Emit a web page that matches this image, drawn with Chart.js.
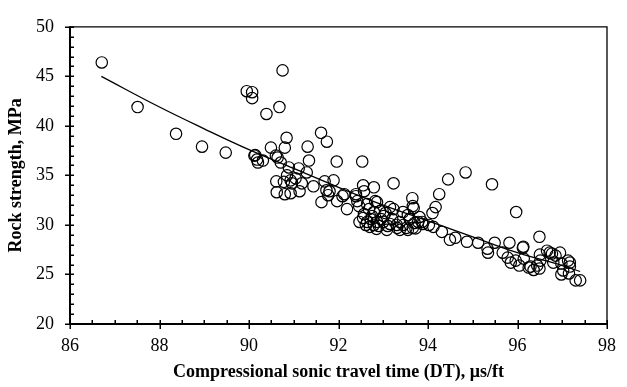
<!DOCTYPE html>
<html>
<head>
<meta charset="utf-8">
<script src="https://cdn.jsdelivr.net/npm/chart.js@4.4.1/dist/chart.umd.min.js"></script>
<style>
  html, body { margin: 0; padding: 0; background: #fff; }
  #wrap { width: 627px; height: 387px; }
</style>
</head>
<body>
<div id="wrap"><canvas id="chart" width="627" height="387"></canvas></div>
<script>
// measured points: DT (us/ft) and rock strength (MPa)
const dtValues = [
  86.71, 87.51, 88.37, 88.95, 89.48, 89.95, 90.07, 90.07, 90.12, 90.75,
  90.39, 90.68, 91.61, 91.74, 90.84, 90.49, 90.80, 91.31, 91.34, 91.96,
  92.53, 93.23, 92.79, 92.55, 91.89, 91.69, 91.29, 91.11, 90.61, 90.62,
  90.80, 91.13, 91.62, 92.19, 91.97, 90.31, 90.18, 90.60, 90.71, 90.89,
  91.04, 90.93, 91.44, 91.80, 91.77, 92.09, 92.39, 92.57, 92.46, 92.82,
  93.15, 90.14, 90.64, 90.85, 91.18, 90.78, 90.96, 90.93, 91.73, 90.20,
  93.65, 93.66, 92.13, 92.39, 92.42, 92.64, 92.86, 92.57, 92.72, 92.86,
  93.01, 93.23, 93.44, 93.15, 93.37, 93.59, 93.81, 93.66, 93.37, 93.08,
  92.79, 92.64, 93.52, 93.88, 92.93, 92.79, 92.47, 92.61, 92.70, 92.90,
  93.00, 92.75, 93.20, 93.10, 92.95, 92.55, 93.30, 92.85, 93.45, 93.70,
  93.55, 92.68, 93.05, 94.45, 94.84, 95.43, 94.25, 94.17, 94.10, 93.68,
  95.97, 96.49, 93.87, 94.12, 94.31, 94.49, 94.61, 94.87, 95.12, 95.33,
  95.34, 95.49, 95.82, 96.13, 95.67, 95.78, 95.85, 96.04, 96.14, 96.29,
  96.44, 96.51, 96.50, 96.66, 96.77, 96.95, 96.80, 96.98, 97.17, 97.02,
  96.98, 97.15, 97.30, 97.40, 93.31, 93.55, 93.72, 96.12, 95.96, 96.25,
  96.36, 96.49, 96.72, 96.85, 97.13, 97.17, 94.02, 93.78
];
const strengthValues = [
  46.4, 41.9, 39.2, 37.9, 37.3, 43.5, 43.4, 42.8, 37.0, 45.6,
  41.2, 41.9, 39.3, 38.4, 38.8, 37.8, 37.8, 37.9, 36.5, 36.4,
  36.4, 34.2, 33.8, 34.0, 34.5, 34.4, 35.3, 35.7, 34.4, 33.3,
  33.1, 33.4, 32.3, 31.6, 32.4, 36.5, 36.6, 37.0, 36.3, 35.8,
  34.7, 34.5, 33.9, 33.4, 33.0, 32.9, 32.9, 33.4, 31.9, 32.4,
  31.8, 37.05, 36.8, 35.0, 34.2, 34.35, 34.2, 33.2, 33.5, 36.3,
  32.7, 31.9, 33.1, 33.1, 32.4, 32.1, 32.3, 31.1, 30.6, 30.3,
  30.9, 31.6, 31.3, 30.1, 30.3, 30.6, 30.8, 29.7, 29.5, 29.5,
  30.0, 30.3, 29.7, 30.1, 31.4, 31.3, 30.3, 30.0, 29.8, 29.9,
  30.3, 30.9, 30.6, 29.9, 30.6, 30.7, 30.0, 29.6, 30.0, 30.2,
  31.0, 31.6, 31.2, 34.6, 35.3, 34.1, 33.1, 31.8, 31.2, 31.7,
  31.3, 28.8, 30.3, 29.8, 29.3, 28.5, 28.7, 28.3, 28.2, 27.6,
  27.2, 28.2, 28.2, 27.8, 27.2, 26.7, 26.2, 25.9, 26.6, 25.8,
  25.9, 26.4, 27.0, 27.4, 27.1, 27.2, 26.2, 26.1, 26.2, 25.4,
  25.0, 25.1, 24.4, 24.4, 29.7, 29.5, 29.65, 27.7, 26.4, 25.7,
  25.45, 25.6, 27.2, 26.9, 26.4, 25.8, 30.0, 30.3
];

// fitted trend curve
const fitDt = [86.7, 88, 89, 90, 91, 92, 93, 94, 95, 96, 97, 97.4];
const fitStrength = [45.0, 41.9, 39.7, 37.6, 35.7, 33.8, 32.0, 30.4, 28.8, 27.2, 25.9, 25.3];

const xMin = 86, xMax = 98, xStep = 2;
const yMin = 20, yMax = 50, yStep = 5;

const serif = "'Liberation Serif', 'Times New Roman', serif";

// frame and inward tick marks like the original plot
const frameTicks = {
  id: "frameTicks",
  afterDraw(chart) {
    const { ctx, chartArea: a, scales } = chart;
    const xs = scales.x, ys = scales.y;
    ctx.save();
    ctx.strokeStyle = "#000";
    ctx.lineCap = "butt";

    ctx.lineWidth = 1.3;
    ctx.beginPath();
    ctx.moveTo(a.left, a.top);
    ctx.lineTo(a.right, a.top);
    ctx.lineTo(a.right, a.bottom);
    ctx.stroke();

    ctx.lineWidth = 2;
    ctx.beginPath();
    ctx.moveTo(a.left, a.top - 0.5);
    ctx.lineTo(a.left, a.bottom);
    ctx.lineTo(a.right + 0.5, a.bottom);
    ctx.stroke();

    ctx.lineWidth = 1.5;
    ctx.beginPath();
    for (let v = yMin; v <= yMax + 1e-9; v += 1) {
      const py = Math.round(ys.getPixelForValue(v)) + 0.25;
      const major = Math.abs(v % yStep) < 1e-9;
      ctx.moveTo(a.left - (major ? 5 : 0), py);
      ctx.lineTo(a.left + 4, py);
    }
    for (let v = xMin; v <= xMax + 1e-9; v += 0.5) {
      const px = Math.round(xs.getPixelForValue(v)) + 0.25;
      const major = Math.abs(v % xStep) < 1e-9;
      ctx.moveTo(px, a.bottom + (major ? 5 : 0));
      ctx.lineTo(px, a.bottom - 4);
    }
    ctx.stroke();
    ctx.restore();
  }
};

new Chart(document.getElementById("chart").getContext("2d"), {
  type: "scatter",
  data: {
    datasets: [
      {
        label: "Measured",
        data: dtValues.map((x, i) => ({ x, y: strengthValues[i] })),
        pointStyle: "circle",
        pointRadius: 5.7,
        pointBorderWidth: 1.2,
        borderColor: "#000",
        backgroundColor: "rgba(0,0,0,0)",
      },
      {
        label: "Fit",
        data: fitDt.map((x, i) => ({ x, y: fitStrength[i] })),
        showLine: true,
        pointRadius: 0,
        borderColor: "#000",
        borderWidth: 1.3,
        tension: 0.4,
        fill: false,
      },
    ],
  },
  options: {
    responsive: false,
    animation: false,
    layout: { padding: { top: 16, right: 9, left: 0, bottom: 0 } },
    plugins: {
      legend: { display: false },
      tooltip: { enabled: false },
    },
    scales: {
      x: {
        type: "linear",
        min: xMin,
        max: xMax,
        border: { display: false },
        grid: { display: false, drawTicks: false },
        ticks: {
          stepSize: xStep,
          padding: 11,
          color: "#000",
          font: { family: serif, size: 18 },
        },
        title: {
          display: true,
          text: "Compressional sonic travel time (DT), μs/ft",
          color: "#000",
          font: { family: serif, size: 18, weight: "bold" },
          padding: { top: 0, bottom: 4 },
        },
        afterFit(scale) { scale.height = 63; },
      },
      y: {
        min: yMin,
        max: yMax,
        border: { display: false },
        grid: { display: false, drawTicks: false },
        ticks: {
          stepSize: yStep,
          padding: 16,
          color: "#000",
          font: { family: serif, size: 18 },
        },
        title: {
          display: true,
          text: "Rock strength, MPa",
          color: "#000",
          font: { family: serif, size: 18, weight: "bold" },
          padding: { top: 6, bottom: 0 },
        },
        afterFit(scale) { scale.width = 70; },
      },
    },
  },
  plugins: [frameTicks],
});
</script>
</body>
</html>
